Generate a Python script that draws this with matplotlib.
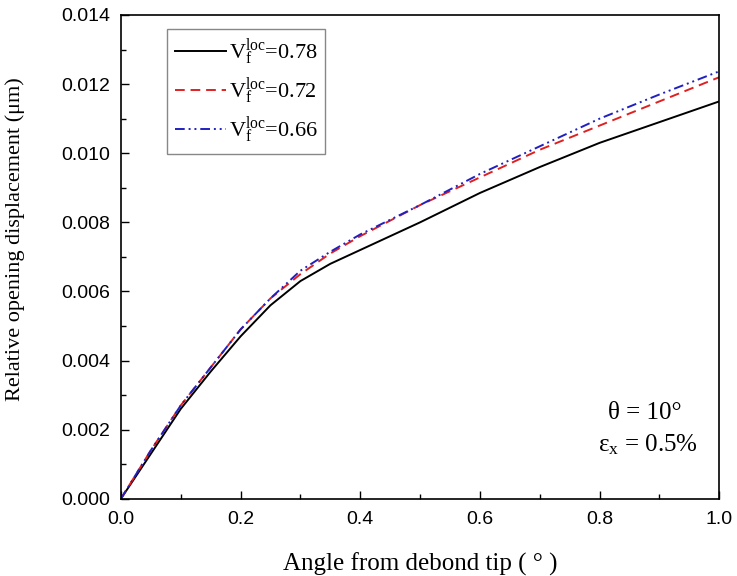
import matplotlib
matplotlib.use("Agg")
import matplotlib.pyplot as plt
import numpy as np

plt.rcParams['mathtext.fontset'] = 'custom'
plt.rcParams['mathtext.rm'] = 'Liberation Serif'
plt.rcParams['mathtext.it'] = 'Liberation Serif:italic'

x = [0.0, 0.05, 0.1, 0.15, 0.2, 0.25, 0.3, 0.35, 0.4, 0.5, 0.6, 0.7, 0.8, 0.9, 1.0]
black_078 = [0.0, 0.0013, 0.0026, 0.00368, 0.0047, 0.0056, 0.0063, 0.0068, 0.0072,
             0.0080, 0.00885, 0.0096, 0.0103, 0.0109, 0.0115]
red_072 = [0.0, 0.0014, 0.0027, 0.0038, 0.0049, 0.0058, 0.0065, 0.0071, 0.0076,
           0.0085, 0.0093, 0.0101, 0.0108, 0.0115, 0.0122]
blue_066 = [0.0, 0.0014, 0.0027, 0.0038, 0.0049, 0.0058, 0.0066, 0.00715, 0.00765,
            0.0085, 0.0094, 0.0102, 0.0110, 0.0117, 0.01237]
labels = [r'V$_\mathrm{f}^\mathrm{loc}$=0.78', r'V$_\mathrm{f}^\mathrm{loc}$=0.72',
          r'V$_\mathrm{f}^\mathrm{loc}$=0.66']

fig = plt.figure(figsize=(7.37, 5.76), dpi=100)
ax = fig.add_axes([0.164, 0.134, 0.812, 0.840])

ax.plot(x, black_078, color='black', lw=1.4, label=labels[0])
ax.plot(x, red_072, color='#e02020', lw=1.4, ls=(0, (5, 3)), label=labels[1])
ax.plot(x, blue_066, color='#2020c0', lw=1.4, ls=(0, (5, 2, 1, 2, 1, 2)), label=labels[2])

ax.set_xlim(0, 1.0)
ax.set_ylim(0, 0.014)
ax.set_xticks(np.arange(0, 1.01, 0.2))
ax.set_xticks(np.arange(0.1, 1.0, 0.2), minor=True)
ax.set_yticks(np.arange(0, 0.0141, 0.002))
ax.set_yticks(np.arange(0.001, 0.014, 0.002), minor=True)
ax.xaxis.set_major_formatter(matplotlib.ticker.FormatStrFormatter('%.1f'))
ax.yaxis.set_major_formatter(matplotlib.ticker.FormatStrFormatter('%.3f'))
ax.tick_params(which='both', direction='in', top=False, right=False,
               labelsize=14, width=1.0)
ax.tick_params(which='major', length=6)
ax.tick_params(which='minor', length=3.5)
ax.tick_params(axis='y', which='major', pad=8)
ax.tick_params(axis='x', which='major', pad=9)
for lab in ax.get_xticklabels() + ax.get_yticklabels():
    lab.set_fontfamily('Liberation Sans')
for s in ax.spines.values():
    s.set_linewidth(1.2)

ax.set_xlabel('Angle from debond tip ( ° )', fontfamily='Liberation Serif', fontsize=18)
ax.set_ylabel('Relative opening displacement (μm)', fontfamily='Liberation Serif', fontsize=16)
ax.xaxis.set_label_coords(0.5, -0.112)
ax.yaxis.set_label_coords(-0.16, 0.537)

leg = ax.legend(loc='upper left', bbox_to_anchor=(0.077, 0.972), borderaxespad=0,
                prop={'family': 'Liberation Serif', 'size': 16},
                fancybox=False, edgecolor='#888888', handlelength=2.3,
                handletextpad=0.12, labelspacing=0.35, borderpad=0.35, framealpha=1)
leg.get_frame().set_linewidth(1.0)

ax.text(0.876, 0.178, 'θ = 10°', transform=ax.transAxes, fontfamily='Liberation Serif',
        fontsize=18, ha='center', va='center')
ax.text(0.88, 0.112, r'ε$_\mathrm{x}$ = 0.5%', transform=ax.transAxes, fontfamily='Liberation Serif',
        fontsize=18, ha='center', va='center')

fig.savefig('out.png', dpi=100)
